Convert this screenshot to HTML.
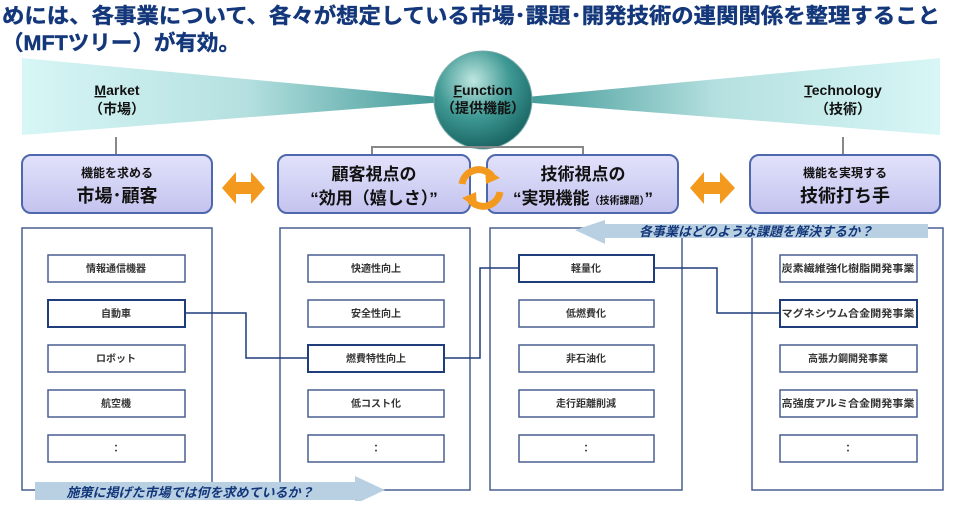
<!DOCTYPE html>
<html><head><meta charset="utf-8">
<style>
html,body{margin:0;padding:0;background:#fff;}
body{width:960px;height:501px;overflow:hidden;font-family:"Liberation Sans","Noto Sans CJK JP",sans-serif;}
svg text{font-family:"Liberation Sans","Noto Sans CJK JP",sans-serif;}
</style></head><body>
<svg width="960" height="501" viewBox="0 0 960 501" xmlns="http://www.w3.org/2000/svg">
<defs>
<linearGradient id="lt" x1="0" x2="1" y1="0" y2="0"><stop offset="0" stop-color="#d8f6f6"/><stop offset="0.5" stop-color="#b5e0e0"/><stop offset="1" stop-color="#2f8f8c"/></linearGradient>
<linearGradient id="rt" x1="1" x2="0" y1="0" y2="0"><stop offset="0" stop-color="#d8f6f6"/><stop offset="0.5" stop-color="#b5e0e0"/><stop offset="1" stop-color="#2f8f8c"/></linearGradient>
<radialGradient id="ci" cx="0.4" cy="0.3" r="0.75"><stop offset="0" stop-color="#bfe6e0"/><stop offset="0.5" stop-color="#3f9994"/><stop offset="1" stop-color="#155f5e"/></radialGradient>
<linearGradient id="hb" x1="0" x2="0" y1="0" y2="1"><stop offset="0" stop-color="#e2e2fb"/><stop offset="1" stop-color="#c3c3ef"/></linearGradient>
</defs>
<g fill="#13377a" font-weight="bold" font-size="21" stroke="#13377a" stroke-width="0.4">
<text x="2" y="23" textLength="938" lengthAdjust="spacingAndGlyphs">めには、各事業について、各々が想定している市場･課題･開発技術の連関関係を整理すること</text>
<text x="2" y="50" textLength="238" lengthAdjust="spacingAndGlyphs">（MFTツリー）が有効。</text>
</g>
<polygon points="22,58 470,100 22,135" fill="url(#lt)"/>
<polygon points="940,58 495,100 940,135" fill="url(#rt)"/>
<g fill="#111" font-weight="bold" font-size="14" text-anchor="middle">
<text x="117" y="95"><tspan text-decoration="underline">M</tspan>arket</text>
<text x="117" y="114">（市場）</text>
<text x="843" y="95"><tspan text-decoration="underline">T</tspan>echnology</text>
<text x="843" y="114">（技術）</text>
</g>
<circle cx="483" cy="100" r="49" fill="url(#ci)" stroke="#7aa" stroke-width="1"/>
<g fill="#111" font-weight="bold" font-size="14" text-anchor="middle">
<text x="483" y="95"><tspan text-decoration="underline">F</tspan>unction</text>
<text x="483" y="113">（提供機能）</text>
</g>
<g stroke="#888" stroke-width="2" fill="none">
<line x1="116" y1="137" x2="116" y2="157"/>
<line x1="843" y1="137" x2="843" y2="157"/>
<polyline points="372,156 372,147 583,147 583,156"/>
</g>
<g fill="url(#hb)" stroke="#4f67ad" stroke-width="2">
<rect x="22" y="155" width="190" height="58" rx="9"/>
<rect x="278" y="155" width="192" height="58" rx="9"/>
<rect x="487" y="155" width="191" height="58" rx="9"/>
<rect x="750" y="155" width="190" height="58" rx="9"/>
</g>
<g fill="#111" font-weight="bold" text-anchor="middle">
<text x="117" y="177" font-size="12">機能を求める</text>
<text x="117" y="202" font-size="18">市場･顧客</text>
<text x="374" y="180" font-size="17">顧客視点の</text>
<text x="374" y="204" font-size="17">“効用（嬉しさ）”</text>
<text x="583" y="180" font-size="17">技術視点の</text>
<text x="583" y="204" font-size="17">“実現機能<tspan font-size="10">（技術課題）</tspan>”</text>
<text x="845" y="177" font-size="12">機能を実現する</text>
<text x="845" y="202" font-size="18">技術打ち手</text>
</g>
<g fill="#f39a1e">
<polygon points="222,188 236,172 236,182 251,182 251,172 265,188 251,204 251,194 236,194 236,204"/>
<polygon points="690,188 704,172 704,182 720,182 720,172 735,188 720,204 720,194 704,194 704,204"/>
</g>
<g fill="none" stroke="#f39a1e" stroke-width="7">
<path d="M462,184 A17,17 0 0 1 492,176"/>
<path d="M500,192 A17,17 0 0 1 470,200"/>
</g>
<polygon points="485,168 500,178 486,184" fill="#f39a1e"/>
<polygon points="477,208 462,198 476,192" fill="#f39a1e"/>
<g fill="#fff" stroke="#4a5f90" stroke-width="1.5">
<rect x="22" y="228" width="190" height="262"/>
<rect x="280" y="228" width="190" height="262"/>
<rect x="490" y="228" width="192" height="262"/>
<rect x="752" y="228" width="191" height="262"/>
</g>
<polygon points="575,230 605,220 605,224 928,224 928,238 605,238 605,244" fill="#b9d0e3"/>
<text x="756" y="236" font-size="13" font-weight="bold" font-style="italic" fill="#13377a" text-anchor="middle">各事業はどのような課題を解決するか？</text>
<polygon points="35,482 355,482 355,476 385,490 355,504 355,500 35,500" fill="#b9d0e3"/>
<text x="190" y="497" font-size="13" font-weight="bold" font-style="italic" fill="#13377a" text-anchor="middle">施策に掲げた市場では何を求めているか？</text>
<g fill="none" stroke="#1f3d7a" stroke-width="1.5">
<polyline points="185,313 246,313 246,358 308,358"/>
<polyline points="444,358 480,358 480,268 519,268"/>
<polyline points="654,268 717,268 717,313 780,313"/>
</g>
<g fill="#fff" stroke="#4a5f90" stroke-width="1.5">
<rect x="48" y="255" width="137" height="27"/><rect x="48" y="300" width="137" height="27" stroke="#1f3d7a" stroke-width="2"/><rect x="48" y="345" width="137" height="27"/><rect x="48" y="390" width="137" height="27"/><rect x="48" y="435" width="137" height="27"/>
<rect x="308" y="255" width="136" height="27"/><rect x="308" y="300" width="136" height="27"/><rect x="308" y="345" width="136" height="27" stroke="#1f3d7a" stroke-width="2"/><rect x="308" y="390" width="136" height="27"/><rect x="308" y="435" width="136" height="27"/>
<rect x="519" y="255" width="135" height="27" stroke="#1f3d7a" stroke-width="2"/><rect x="519" y="300" width="135" height="27"/><rect x="519" y="345" width="135" height="27"/><rect x="519" y="390" width="135" height="27"/><rect x="519" y="435" width="135" height="27"/>
<rect x="780" y="255" width="137" height="27"/><rect x="780" y="300" width="137" height="27" stroke="#1f3d7a" stroke-width="2"/><rect x="780" y="345" width="137" height="27"/><rect x="780" y="390" width="137" height="27"/><rect x="780" y="435" width="137" height="27"/>
</g>
<g fill="#333" font-size="10" font-weight="bold" text-anchor="middle">
<text x="116" y="272">情報通信機器</text><text x="116" y="317">自動車</text><text x="116" y="362">ロボット</text><text x="116" y="407">航空機</text><text x="116" y="452">：</text>
<text x="376" y="272">快適性向上</text><text x="376" y="317">安全性向上</text><text x="376" y="362">燃費特性向上</text><text x="376" y="407">低コスト化</text><text x="376" y="452">：</text>
<text x="586" y="272">軽量化</text><text x="586" y="317">低燃費化</text><text x="586" y="362">非石油化</text><text x="586" y="407">走行距離削減</text><text x="586" y="452">：</text>
<text x="848" y="272" textLength="133" lengthAdjust="spacingAndGlyphs">炭素繊維強化樹脂開発事業</text><text x="848" y="317" textLength="133" lengthAdjust="spacingAndGlyphs">マグネシウム合金開発事業</text><text x="848" y="362">高張力鋼開発事業</text><text x="848" y="407" textLength="133" lengthAdjust="spacingAndGlyphs">高強度アルミ合金開発事業</text><text x="848" y="452">：</text>
</g>
</svg>
</body></html>
